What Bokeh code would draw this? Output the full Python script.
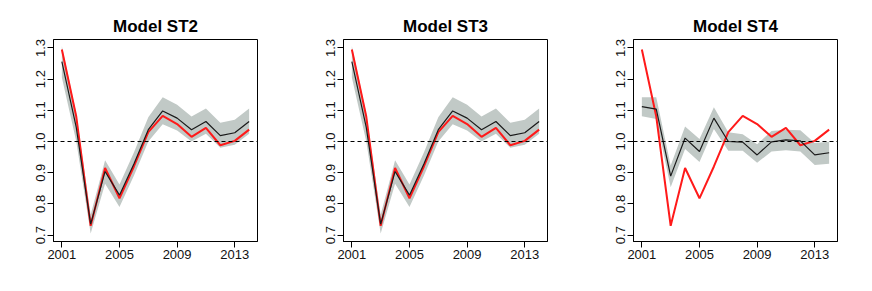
from bokeh.plotting import figure
from bokeh.layouts import row
from bokeh.models import Range1d, FixedTicker, Span, NumeralTickFormatter
from bokeh.embed import file_html
from bokeh.resources import INLINE

years = list(range(2001, 2015))

observed = [1.295, 1.080, 0.730, 0.915, 0.818, 0.920, 1.030, 1.082, 1.056, 1.015, 1.044, 0.988, 1.002, 1.038]

st2_fit = [1.256, 1.045, 0.735, 0.904, 0.828, 0.928, 1.038, 1.098, 1.075, 1.038, 1.064, 1.019, 1.028, 1.064]
st2_upper = [1.305, 1.090, 0.765, 0.940, 0.862, 0.965, 1.078, 1.142, 1.118, 1.080, 1.106, 1.060, 1.070, 1.106]
st2_lower = [1.205, 1.000, 0.705, 0.865, 0.790, 0.890, 1.000, 1.055, 1.035, 1.000, 1.025, 0.980, 0.990, 1.025]

st3_fit = [1.256, 1.045, 0.735, 0.904, 0.828, 0.928, 1.038, 1.098, 1.075, 1.038, 1.064, 1.019, 1.028, 1.064]
st3_upper = [1.305, 1.090, 0.765, 0.940, 0.862, 0.965, 1.078, 1.142, 1.118, 1.080, 1.106, 1.060, 1.070, 1.106]
st3_lower = [1.205, 1.000, 0.705, 0.865, 0.790, 0.890, 1.000, 1.055, 1.035, 1.000, 1.025, 0.980, 0.990, 1.025]

st4_fit = [1.112, 1.104, 0.889, 1.011, 0.968, 1.075, 1.000, 0.998, 0.957, 0.999, 1.005, 1.002, 0.957, 0.964]
st4_upper = [1.142, 1.142, 0.923, 1.048, 1.008, 1.110, 1.030, 1.023, 0.991, 1.034, 1.038, 1.036, 0.995, 0.999]
st4_lower = [1.081, 1.072, 0.853, 0.976, 0.934, 1.040, 0.970, 0.970, 0.932, 0.968, 0.972, 0.968, 0.925, 0.929]

titles = ["Model ST2", "Model ST3", "Model ST4"]
x_ticks = [2001, 2005, 2009, 2013]
y_ticks = [0.7, 0.8, 0.9, 1.0, 1.1, 1.2, 1.3]

FONT = "Liberation Sans"


def make_panel(title, fit, upper, lower, right_border):
    p = figure(output_backend="svg", toolbar_location=None,
               frame_width=204, frame_height=202,
               min_border_left=53, min_border_right=right_border,
               min_border_top=39, min_border_bottom=38,
               x_range=Range1d(2000.42, 2014.58),
               y_range=Range1d(0.6795, 1.327),
               title=title)
    p.title.text_font = FONT
    p.title.text_font_size = "17px"
    p.title.text_font_style = "bold"
    p.title.align = "center"
    p.title.text_color = "black"
    p.title.standoff = 8
    p.xgrid.visible = False
    p.ygrid.visible = False
    p.outline_line_color = "black"
    p.outline_line_width = 1
    p.background_fill_color = "white"
    p.border_fill_color = "white"

    p.varea(x=years, y1=lower, y2=upper, fill_color="#c1c9c6", fill_alpha=1.0)
    p.add_layout(Span(location=1.0, dimension="width", line_color="black",
                      line_width=1, line_dash="4 3"))
    p.line(years, observed, line_color="#ff1a1a", line_width=2)
    p.line(years, fit, line_color="#1a1a1a", line_width=1.2)

    for ax in (p.xaxis, p.yaxis):
        ax.axis_line_color = "black"
        ax.major_tick_line_color = "black"
        ax.minor_tick_line_color = None
        ax.major_tick_out = 6
        ax.major_tick_in = 0
        ax.major_label_text_font = FONT
        ax.major_label_text_font_size = "13px"
        ax.major_label_text_color = "#111111"
    p.xaxis.ticker = FixedTicker(ticks=x_ticks)
    p.xaxis.major_label_standoff = 2
    p.yaxis.ticker = FixedTicker(ticks=y_ticks)
    p.yaxis.formatter = NumeralTickFormatter(format="0.0")
    p.yaxis.major_label_orientation = "vertical"
    p.yaxis.major_label_standoff = 2
    return p


p1 = make_panel(titles[0], st2_fit, st2_upper, st2_lower, 33)
p2 = make_panel(titles[1], st3_fit, st3_upper, st3_lower, 33)
p3 = make_panel(titles[2], st4_fit, st4_upper, st4_lower, 25)

layout = row(p1, p2, p3)
open("out.html", "w").write(file_html(layout, INLINE))
